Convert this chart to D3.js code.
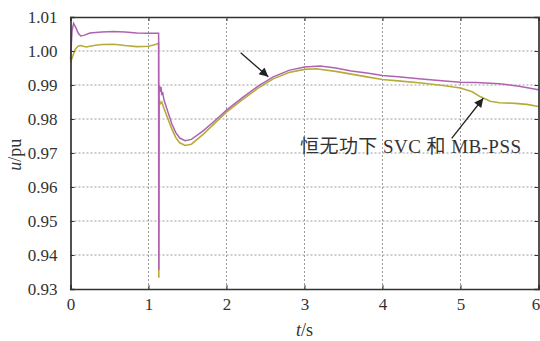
<!doctype html>
<html>
  <head>
    <meta charset="utf-8">
    <title>u/pu</title>
    <style>
      body { margin: 0; background: #fff; }
    </style>
  </head>
  <body>
    <div id="chart"></div>
    <script src="https://d3js.org/d3.v7.min.js"></script>
    <script>
      // purple curve (upper)
      var tPurple = [0, 0.02, 0.04, 0.07, 0.10, 0.13, 0.17, 0.25, 0.40, 0.55, 0.70, 0.85, 1.00, 1.13,
        1.132, 1.136, 1.15, 1.16, 1.17, 1.18, 1.20, 1.25, 1.30, 1.35, 1.40, 1.47, 1.55, 1.70, 1.85,
        2.00, 2.20, 2.40, 2.60, 2.80, 3.00, 3.20, 3.40, 3.60, 3.80, 4.00, 4.20, 4.50, 4.80, 5.00,
        5.20, 5.50, 5.75, 6.00];
      var uPurple = [0.9975, 1.0060, 1.0081, 1.0068, 1.0052, 1.0044, 1.0046, 1.0053, 1.0056, 1.0057, 1.0056, 1.0053, 1.0052, 1.0052,
        0.9356, 0.9900, 0.9880, 0.9895, 0.9870, 0.9880, 0.9855, 0.9820, 0.9785, 0.9760, 0.9744, 0.9736, 0.9740, 0.9765, 0.9795,
        0.9826, 0.9862, 0.9896, 0.9924, 0.9943, 0.9953, 0.9956, 0.9950, 0.9941, 0.9935, 0.9928, 0.9924, 0.9918, 0.9912, 0.9908,
        0.9907, 0.9904, 0.9896, 0.9886];

      // olive curve (lower)
      var tOlive = [0, 0.03, 0.06, 0.10, 0.13, 0.20, 0.30, 0.40, 0.55, 0.70, 0.85, 1.00, 1.10, 1.13,
        1.132, 1.136, 1.15, 1.17, 1.20, 1.25, 1.30, 1.35, 1.40, 1.47, 1.55, 1.70, 1.85,
        2.00, 2.20, 2.40, 2.60, 2.80, 3.00, 3.15, 3.40, 3.60, 3.80, 4.00, 4.20, 4.50, 4.80, 5.00,
        5.15, 5.25, 5.38, 5.50, 5.70, 5.85, 6.00];
      var uOlive = [0.9966, 0.9985, 1.0005, 1.0015, 1.0016, 1.0012, 1.0016, 1.0019, 1.0020, 1.0016, 1.0013, 1.0014, 1.0020, 1.0023,
        0.9333, 0.9860, 0.9845, 0.9850, 0.9830, 0.9800, 0.9770, 0.9745, 0.9730, 0.9722, 0.9726, 0.9755, 0.9788,
        0.9820, 0.9856, 0.9890, 0.9918, 0.9937, 0.9946, 0.9948, 0.9940, 0.9932, 0.9924, 0.9916, 0.9912, 0.9906, 0.9898, 0.9891,
        0.9880, 0.9866, 0.9852, 0.9848, 0.9846, 0.9843, 0.9837];

      var xTicks = [0, 1, 2, 3, 4, 5, 6];
      var yTicks = [0.93, 0.94, 0.95, 0.96, 0.97, 0.98, 0.99, 1.00, 1.01];

      var width = 540, height = 341;
      var margin = { left: 70.5, right: 1.5, top: 17, bottom: 52 };
      var serif = '"Liberation Serif", "Times New Roman", "Noto Sans CJK SC", serif';

      var svg = d3.select('#chart').append('svg')
        .attr('width', width)
        .attr('height', height);

      var x = d3.scaleLinear().domain([0, 6]).range([margin.left, width - margin.right]);
      var y = d3.scaleLinear().domain([0.93, 1.01]).range([height - margin.bottom, margin.top]);

      // grid
      svg.append('g').selectAll('line')
        .data(xTicks.slice(1, -1))
        .enter().append('line')
        .attr('x1', function(d) { return x(d); })
        .attr('x2', function(d) { return x(d); })
        .attr('y1', y(0.93))
        .attr('y2', y(1.01))
        .attr('stroke', '#9a9a9a')
        .attr('stroke-dasharray', '2,2');
      svg.append('g').selectAll('line')
        .data(yTicks.slice(1, -1))
        .enter().append('line')
        .attr('x1', x(0))
        .attr('x2', x(6))
        .attr('y1', function(d) { return y(d); })
        .attr('y2', function(d) { return y(d); })
        .attr('stroke', '#9a9a9a')
        .attr('stroke-dasharray', '2,2');

      // curves
      var line = d3.line()
        .x(function(d) { return x(d[0]); })
        .y(function(d) { return y(d[1]); });

      svg.append('path')
        .attr('d', line(d3.zip(tOlive, uOlive)))
        .attr('fill', 'none')
        .attr('stroke', '#b5ac3a')
        .attr('stroke-width', 1.6);
      svg.append('path')
        .attr('d', line(d3.zip(tPurple, uPurple)))
        .attr('fill', 'none')
        .attr('stroke', '#b062b2')
        .attr('stroke-width', 1.5);

      // axes (inward ticks, boxed)
      var fmt = d3.format('.2f');
      svg.append('g')
        .attr('transform', 'translate(0,' + y(0.93) + ')')
        .call(d3.axisBottom(x).tickValues(xTicks).tickSize(-4).tickPadding(9).tickFormat(d3.format('d')))
        .call(function(g) {
          g.selectAll('text').attr('font-size', 17);
          g.selectAll('.tick:last-of-type text').attr('dx', -3);
        });
      svg.append('g')
        .attr('transform', 'translate(0,' + y(1.01) + ')')
        .call(d3.axisTop(x).tickValues(xTicks).tickSize(-4).tickFormat(''));
      svg.append('g')
        .attr('transform', 'translate(' + x(0) + ',0)')
        .call(d3.axisLeft(y).tickValues(yTicks).tickSize(-4).tickPadding(13).tickFormat(fmt))
        .call(function(g) { g.selectAll('text').attr('font-size', 17); });
      svg.append('g')
        .attr('transform', 'translate(' + x(6) + ',0)')
        .call(d3.axisRight(y).tickValues(yTicks).tickSize(-4).tickFormat(''));
      svg.selectAll('.domain').attr('stroke', '#333').attr('stroke-width', 1.7);
      svg.selectAll('.tick line').attr('stroke', '#333');

      // axis titles
      var xt = svg.append('text')
        .attr('x', x(3))
        .attr('y', 336)
        .attr('text-anchor', 'middle')
        .attr('font-size', 18);
      xt.append('tspan').attr('font-style', 'italic').text('t');
      xt.append('tspan').text('/s');

      var yt = svg.append('text')
        .attr('transform', 'translate(21,' + y(0.9695) + ') rotate(-90)')
        .attr('text-anchor', 'middle')
        .attr('font-size', 18);
      yt.append('tspan').attr('font-style', 'italic').text('u');
      yt.append('tspan').text('/pu');

      // annotations
      svg.append('defs').append('marker')
        .attr('id', 'head')
        .attr('viewBox', '0 0 10 10')
        .attr('refX', 10).attr('refY', 5)
        .attr('markerWidth', 11).attr('markerHeight', 9)
        .attr('markerUnits', 'userSpaceOnUse')
        .attr('orient', 'auto')
        .append('path')
        .attr('d', 'M0,0L10,5L0,10z')
        .attr('fill', '#222');

      var arrows = [
        { t0: 2.182, u0: 0.9995, t1: 2.536, u1: 0.9924 },
        { t0: 4.887, u0: 0.9743, t1: 5.292, u1: 0.9861 }
      ];
      svg.append('g').selectAll('line')
        .data(arrows)
        .enter().append('line')
        .attr('x1', function(d) { return x(d.t0); })
        .attr('y1', function(d) { return y(d.u0); })
        .attr('x2', function(d) { return x(d.t1); })
        .attr('y2', function(d) { return y(d.u1); })
        .attr('stroke', '#222')
        .attr('stroke-width', 1.3)
        .attr('marker-end', 'url(#head)');

      svg.append('text')
        .attr('x', x(2.942))
        .attr('y', y(0.97))
        .attr('font-size', 19)
        .attr('textLength', 221)
        .attr('lengthAdjust', 'spacing')
        .text('恒无功下 SVC 和 MB-PSS');

      // one font for every text, set inline so the axis default is replaced
      svg.selectAll('text')
        .style('font-family', serif)
        .style('fill', '#333');
    </script>
  </body>
</html>
